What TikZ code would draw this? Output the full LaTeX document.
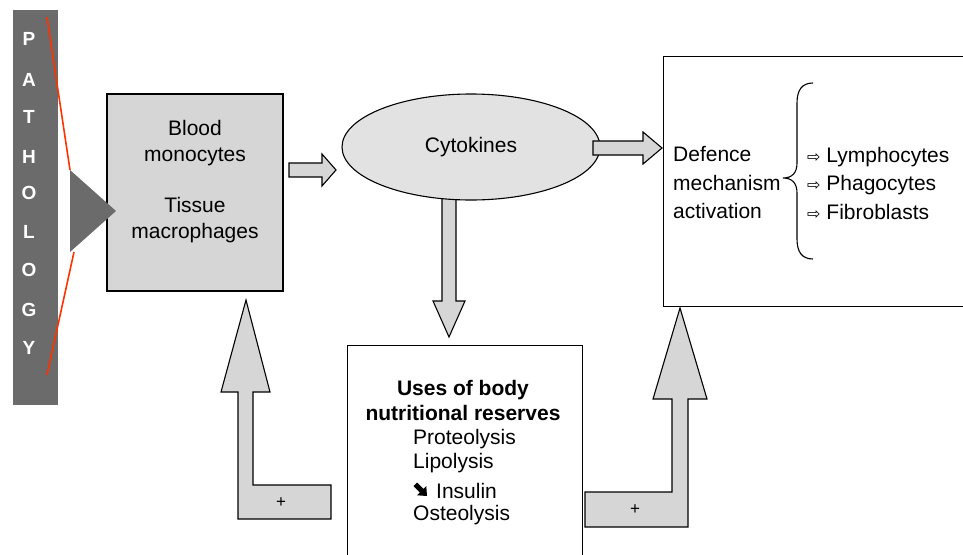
\documentclass[tikz,border=0pt]{standalone}
\usepackage{fontspec}
\setmainfont{Liberation Sans}
\newfontfamily\djv{DejaVu Sans}
\usetikzlibrary{shapes.geometric}
\definecolor{patgray}{HTML}{6B6B6B}
\definecolor{boxgray}{HTML}{D6D6D6}
\definecolor{ellgray}{HTML}{E2E2E2}
\definecolor{redline}{HTML}{FF3300}
\begin{document}
\begin{tikzpicture}[x=1pt,y=-1pt,
 txt/.style={font=\fontsize{21}{26}\selectfont, inner sep=0pt},
 blockarrow/.style={draw=black, line width=1.1pt, fill=boxgray, line join=miter},
 frame/.style={draw=black, line width=1.2pt, inner sep=0pt},
 patletter/.style={font=\fontsize{19}{19}\selectfont\bfseries, text=white, inner sep=0pt},
 plus/.style={font=\fontsize{17}{17}\selectfont, inner sep=0pt}
]
\useasboundingbox (0,0) rectangle (963,554);

% Pathology bar
\node[fill=patgray, minimum width=45pt, minimum height=395pt, inner sep=0pt, anchor=north west] (pathbar) at (13,10) {};
\foreach \l/\y [count=\i] in {P/39,A/80,T/117,H/157,O/193,L/232,O/270,G/310,Y/348}
  \node[patletter] (pl\i) at (29,\y) {\l};

% Monocytes box
\node[frame, fill=boxgray, minimum width=176pt, minimum height=197pt] (mono) at (195,192.5) {};
\node[txt, align=center] (monotxt) at (195,181.5) {Blood\\monocytes\\[25pt]Tissue\\macrophages};

% pointer triangle and red lines
\fill[patgray] (70,170) -- (116,211) -- (70,252) -- cycle;
\draw[redline, line width=1.6pt] (47,17) -- (70,170);
\draw[redline, line width=1.6pt] (74,252) -- (47,375);

% down arrow (behind ellipse)
\draw[blockarrow] (442,190) -- (456,190) -- (456,301) -- (465,301) -- (449,337) -- (433,301) -- (442,301) -- cycle;

% Cytokines ellipse
\node[ellipse, draw, line width=1.1pt, fill=ellgray, minimum width=258pt, minimum height=106pt, txt] (cyto) at (471,147) {Cytokines};

% small arrow mono -> cyto
\draw[blockarrow] (289,163) -- (322,163) -- (322,154) -- (336,170) -- (322,186) -- (322,177) -- (289,177) -- cycle;

% arrow cyto -> defence
\draw[blockarrow] (593,141) -- (643,141) -- (643,132) -- (662,148) -- (643,164) -- (643,155) -- (593,155) -- cycle;

% Defence box
\node[frame, minimum width=312pt, minimum height=250pt, anchor=north west] (def) at (663,56) {};
\node[txt, align=left, anchor=west, font=\fontsize{21}{28.5}\selectfont] (deftxt) at (673,183) {Defence\\mechanism\\activation};
\draw[line width=1.1pt] (813,83) .. controls (802,83) and (797,90) .. (797,103) -- (797,163)
  .. controls (797,173) and (792,178) .. (783,178)
  .. controls (792,178) and (797,183) .. (797,193) -- (797,239)
  .. controls (797,252) and (802,259) .. (813,259);
\node[txt, align=left, anchor=west, font=\fontsize{21}{28.5}\selectfont] (cells) at (807,183)
  {{\djv\fontsize{16}{16}\selectfont ⇨} Lymphocytes\\{\djv\fontsize{16}{16}\selectfont ⇨} Phagocytes\\{\djv\fontsize{16}{16}\selectfont ⇨} Fibroblasts};

% Uses box
\node[frame, minimum width=235pt, minimum height=225pt, anchor=north west] (uses) at (347,345) {};
\node[txt, font=\fontsize{21}{25}\selectfont\bfseries, align=center] (usestitle) at (463,400) {Uses of body\\nutritional reserves};
\node[txt, anchor=west] (prot) at (413,439) {Proteolysis};
\node[txt, anchor=west] (lip) at (413,463) {Lipolysis};
\node[txt, anchor=west] (ins) at (436,491) {Insulin};
\begin{scope}[shift={(421,490)}, rotate=-45]
  \fill[black] (-8,-2.6) -- (1,-2.6) -- (1,-6.5) -- (8.5,0) -- (1,6.5) -- (1,2.6) -- (-8,2.6) -- cycle;
\end{scope}
\node[txt, anchor=west] (ost) at (413,515) {Osteolysis};

% left feedback arrow (uses -> mono)
\draw[blockarrow] (246,300) -- (270,392) -- (253,392) -- (253,485) -- (331,485) -- (331,519) -- (238,519) -- (238,392) -- (221,392) -- cycle;
\node[plus] (plusL) at (281,503) {+};

% right feedback arrow (uses -> defence)
\draw[blockarrow] (680,308) -- (707,399) -- (688,399) -- (688,527) -- (585,527) -- (585,492) -- (672,492) -- (672,399) -- (653,399) -- cycle;
\node[plus] (plusR) at (635,510) {+};
\end{tikzpicture}
\end{document}
